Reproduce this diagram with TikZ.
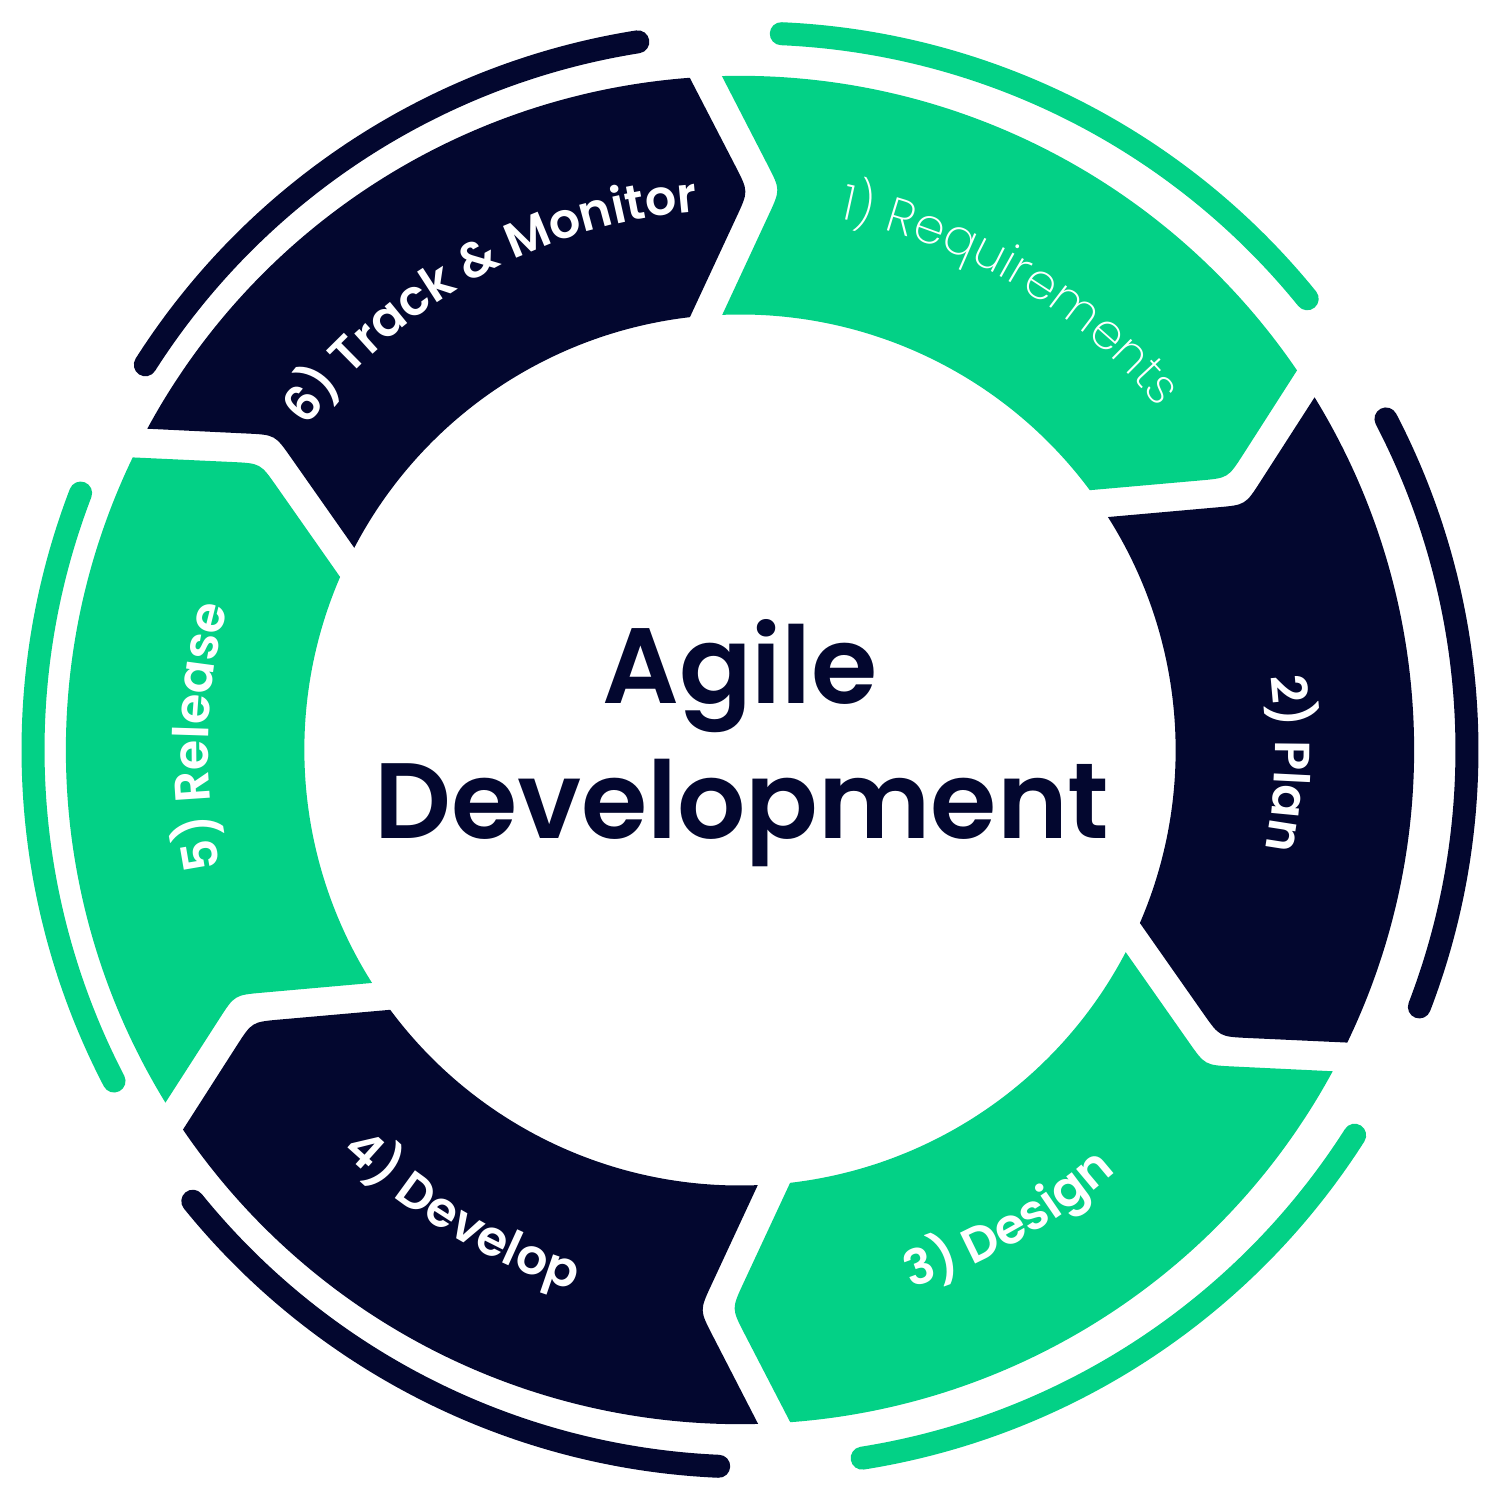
\documentclass[tikz,border=0pt]{standalone}
\usepackage{fontspec}
\setmainfont{Poppins}
\newfontfamily\popsemi{Poppins SemiBold}
\newfontfamily\poplight{Poppins ExtraLight}
\usetikzlibrary{calc,decorations.text}
\definecolor{agreen}{HTML}{03D186}
\definecolor{anavy}{HTML}{03072F}
\tikzset{
  ringarc/.style={line width=0.23cm, line cap=round},
  titletext/.style={font=\popsemi\fontsize{30.5pt}{36pt}\selectfont, text=anavy, anchor=base, inner sep=0pt}
}
\begin{document}
\begin{tikzpicture}
\useasboundingbox (0,0) rectangle (15,15);
\coordinate (C) at (7.4,7.5);
\coordinate (A) at (7.5,7.5);
% boundary points
\foreach \k in {0,...,6}{
  \pgfmathsetmacro\angB{92.9-60*\k}
  \coordinate (Oe\k) at ($(C)+(\angB:6.74)+(\angB+90:0.16)$);
  \coordinate (Te\k) at ($(C)+(\angB-5.4:5.6)+(\angB+90:0.16)$);
  \coordinate (Ie\k) at ($(C)+(\angB+1.6:4.35)+(\angB+90:0.16)$);
  \coordinate (Os\k) at ($(C)+(\angB:6.74)+(\angB-90:0.16)$);
  \coordinate (Ts\k) at ($(C)+(\angB-5.4:5.6)+(\angB-90:0.16)$);
  \coordinate (Is\k) at ($(C)+(\angB+1.6:4.35)+(\angB-90:0.16)$);
}
% segments
\foreach \k/\col in {1/agreen,2/anavy,3/agreen,4/anavy,5/agreen,6/anavy}{
  \pgfmathtruncatemacro\j{\k-1}
  \pgfmathsetmacro\angA{92.9-60*\j}
  \pgfmathsetmacro\angB{92.9-60*\k}
  \fill[\col] (Os\j) arc[start angle=\angA-1.36, end angle=\angB+1.36, radius=6.74]
    -- ($(Te\k)!0.28cm!(Oe\k)$) .. controls (Te\k) .. ($(Te\k)!0.28cm!(Ie\k)$)
    -- (Ie\k) arc[start angle=\angB+3.71, end angle=\angA-0.51, radius=4.353]
    -- ($(Ts\j)!0.28cm!(Is\j)$) .. controls (Ts\j) .. ($(Ts\j)!0.28cm!(Os\j)$) -- cycle;
}
% outer arcs
\foreach \k/\col in {0/agreen,1/anavy,2/agreen,3/anavy,4/agreen,5/anavy}{
  \pgfmathsetmacro\angM{63-60*\k}
  \draw[\col, ringarc] ($(A)+(\angM+24.5:7.17)$) arc[start angle=\angM+24.5, end angle=\angM-24, radius=7.17];
}
% labels along arcs
\path[decorate, decoration={text along path, text align=center,
  text={|\poplight\fontsize{14pt}{17pt}\selectfont\color{white}|{1)} Requirements}}]
  ($(C)+(99.3:5.40)$) arc[start angle=99.3, end angle=19.3, radius=5.40];
\path[decorate, decoration={text along path, text align=center,
  text={|\popsemi\fontsize{14pt}{17pt}\selectfont\color{white}|{2)} Plan}}]
  ($(C)+(38.6:5.35)$) arc[start angle=38.6, end angle=-41.4, radius=5.35];
\path[decorate, decoration={text along path, text align=center,
  text={|\popsemi\fontsize{14pt}{17pt}\selectfont\color{white}|{3)} Design}}]
  ($(C)+(-100.3:5.65)$) arc[start angle=-100.3, end angle=-20.3, radius=5.65];
\path[decorate, decoration={text along path, text align=center,
  text={|\popsemi\fontsize{14pt}{17pt}\selectfont\color{white}|{4)} Develop}}]
  ($(C)+(-161:5.65)$) arc[start angle=-161, end angle=-81, radius=5.65];
\path[decorate, decoration={text along path, text align=center,
  text={|\popsemi\fontsize{14pt}{17pt}\selectfont\color{white}|{5)} Release}}]
  ($(C)+(218.6:5.32)$) arc[start angle=218.6, end angle=138.6, radius=5.32];
\path[decorate, decoration={text along path, text align=center,
  text={|\popsemi\fontsize{14pt}{17pt}\selectfont\color{white}|{6)} Track {\&} Monitor}}]
  ($(C)+(158.9:5.40)$) arc[start angle=158.9, end angle=78.9, radius=5.40];
% centre title
\node[titletext] (tA) at (7.4,7.96) {Agile};
\node[titletext] (tD) at (7.42,6.61) {Development};
\end{tikzpicture}
\end{document}
